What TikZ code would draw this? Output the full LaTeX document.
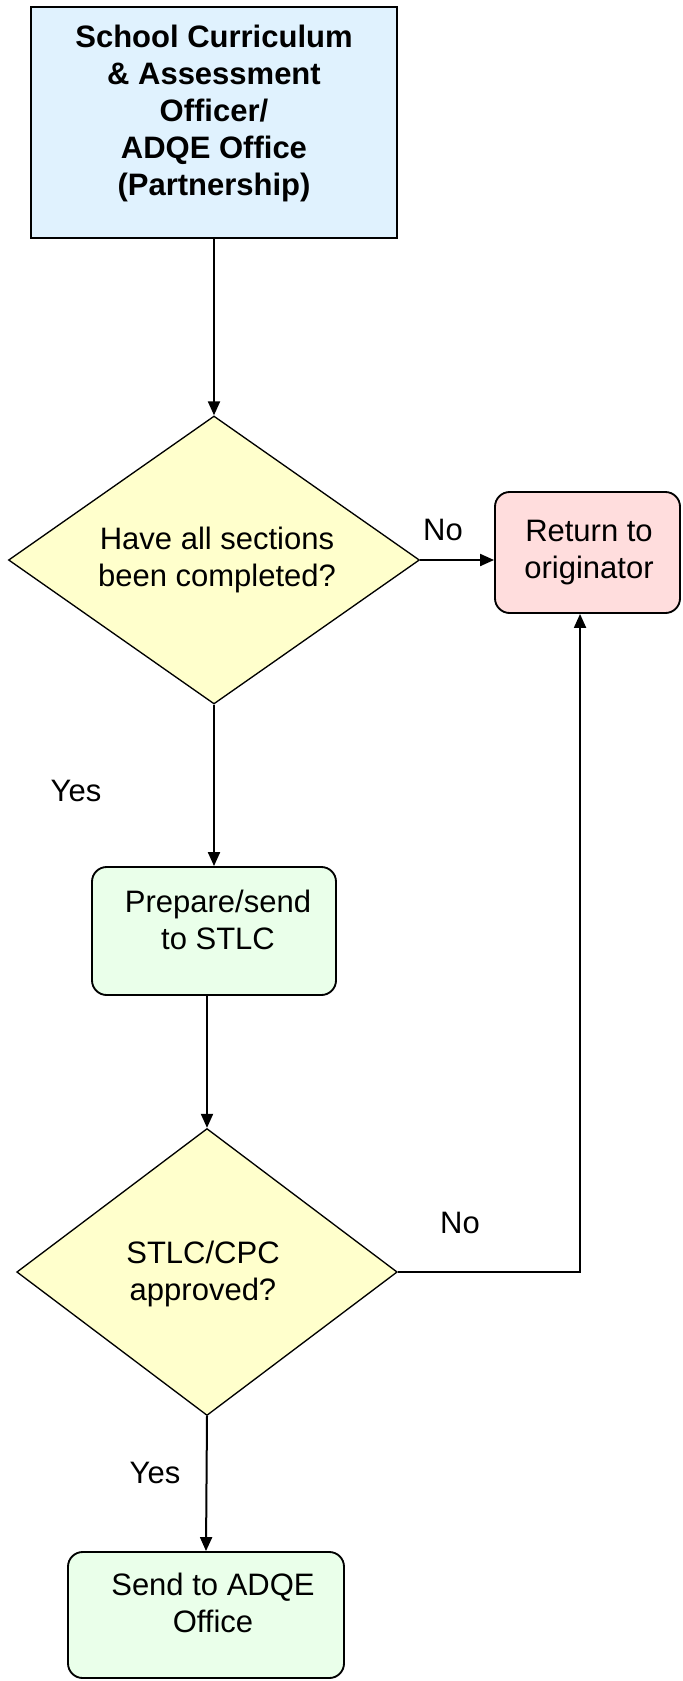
\documentclass[tikz,border=0pt]{standalone}
\usepackage{fontspec}
\setmainfont{Liberation Sans}
\usetikzlibrary{shapes.geometric,arrows.meta}
\definecolor{topfill}{RGB}{224,242,254}
\definecolor{decfill}{RGB}{255,255,204}
\definecolor{retfill}{RGB}{255,221,221}
\definecolor{grnfill}{RGB}{234,255,234}
\tikzset{
  txt/.style={inner sep=0pt, align=center, font=\fontsize{23.25pt}{27.6pt}\selectfont},
  lbl/.style={inner sep=0pt, anchor=base, font=\fontsize{23.25pt}{27.6pt}\selectfont},
  topbox/.style={draw, line width=2pt, fill=topfill, inner sep=0pt, minimum width=274.5pt, minimum height=173.25pt},
  decision/.style={draw, line width=1pt, fill=decfill, diamond, inner sep=0pt, shape aspect=1.42},
  roundbox/.style={draw, line width=1.4pt, rounded corners=11pt, inner sep=0pt},
  arr/.style={line width=1.5pt, -{Triangle[length=10.5pt,width=9pt]}},
  plain/.style={line width=1.5pt}
}
\begin{document}
\begin{tikzpicture}[x=0.75pt,y=-0.75pt]
\useasboundingbox (0,0) rectangle (682,1681);
% top box
\node[topbox] (top) at (214,122.5) {};
\node[txt, font=\fontsize{23.25pt}{27.6pt}\selectfont\bfseries] (toptxt) at (214,114.2)
  {School Curriculum\strut\\\& Assessment\strut\\Officer/\strut\\ADQE Office\strut\\(Partnership)\strut};
% decision 1
\node[decision, minimum width=308.25pt, minimum height=216pt] (d1) at (214,560) {};
\node[txt] (d1txt) at (217,561) {Have all sections\strut\\been completed?\strut};
% return box
\node[roundbox, fill=retfill, minimum width=138.75pt, minimum height=90.75pt] (ret) at (587.5,552.5) {};
\node[txt] (rettxt) at (589,553) {Return to\strut\\originator\strut};
% prepare box
\node[roundbox, fill=grnfill, minimum width=183pt, minimum height=96pt] (prep) at (214,931) {};
\node[txt] (preptxt) at (218,923.6) {Prepare/send\strut\\to STLC\strut};
% decision 2
\node[decision, minimum width=285.4pt, minimum height=215.25pt] (d2) at (207,1272) {};
\node[txt] (d2txt) at (203,1274.6) {STLC/CPC\strut\\approved?\strut};
% send box
\node[roundbox, fill=grnfill, minimum width=207pt, minimum height=94.5pt] (send) at (206,1615) {};
\node[txt] (sendtxt) at (213,1607) {Send to ADQE\strut\\Office\strut};
% labels
\node[lbl] (no1) at (443,540) {No};
\node[lbl] (yes1) at (76,801) {Yes};
\node[lbl] (no2) at (460,1233) {No};
\node[lbl] (yes2) at (155,1483) {Yes};
% connectors
\coordinate (retin) at ([xshift=-5.6pt]ret.south);
\draw[arr] (top.south) -- (d1.north);
\draw[arr] (d1.east) -- (d1.east -| ret.west);
\draw[arr] (d1.south) -- (prep.north);
\draw[arr] (d2.north |- prep.south) -- (d2.north);
\draw[arr] (d2.east) -| (retin);
\draw[arr] (d2.south) -- (send.north);
\end{tikzpicture}
\end{document}
